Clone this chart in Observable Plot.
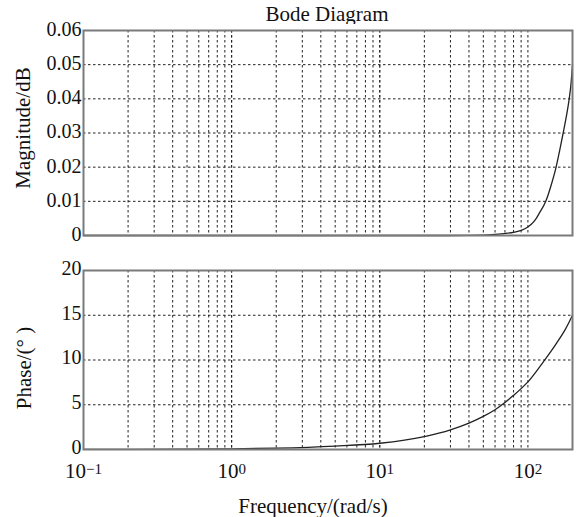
<!DOCTYPE html>
<html><head><meta charset="utf-8">
<script src="https://cdn.jsdelivr.net/npm/d3@7"></script>
<script src="https://cdn.jsdelivr.net/npm/@observablehq/plot@0.6"></script>
<style>
body{margin:0;background:#fff;font-family:"Liberation Serif",serif;}
#wrap{position:relative;width:580px;height:517px;background:#fff;}
#title{position:absolute;left:0;top:2px;width:580px;text-align:center;padding-left:74px;box-sizing:border-box;font-size:21px;color:#111;}
#p1{position:absolute;left:0;top:24px;}
#p2{position:absolute;left:0;top:244px;}
</style></head><body>
<div id="wrap">
<div id="title">Bode Diagram</div>
<div id="p1"></div>
<div id="p2"></div>
</div>
<script>
// ---- data ----
const magFreq = [0.1, 1, 10, 30, 50, 60, 70, 80, 90, 100, 105, 113, 120, 132, 143, 155, 164, 173, 182, 190, 196, 200];
const magDb   = [0, 0, 0, 0, 0.0001, 0.0003, 0.0006, 0.0009, 0.0015, 0.0025, 0.0032, 0.0048, 0.0067, 0.01, 0.0145, 0.02, 0.025, 0.03, 0.035, 0.04, 0.045, 0.05];
const phaseFreq = [0.1, 1, 2, 5, 10, 20, 30, 40, 50, 60, 70, 80, 90, 100, 126, 155, 180, 200];
const phaseDeg  = [0.01, 0.08, 0.15, 0.38, 0.7, 1.45, 2.2, 2.95, 3.7, 4.45, 5.25, 6.05, 6.8, 7.55, 9.7, 11.8, 13.5, 15];
const xTicks = [0.1, 1, 10, 100];
const xExponents = ["-1", "0", "1", "2"];
const magTicks = [0, 0.01, 0.02, 0.03, 0.04, 0.05, 0.06];
const phaseTicks = [0, 5, 10, 15, 20];
const xGrid = [];
for (const d of [0.1, 1, 10]) for (let k = 1; k <= 10; k++) xGrid.push(+(d * k).toPrecision(3));

const magLabel = "Magnitude/dB";
const phaseLabel = "Phase/(\u00b0 )";
const xLabel = "Frequency/(rad/s)";

const magData = magFreq.map((f, i) => ({f, v: magDb[i]}));
const phaseData = phaseFreq.map((f, i) => ({f, v: phaseDeg[i]}));

const gridStyle = {stroke: "#222", strokeDasharray: "2.5,2.5", strokeWidth: 1};
const common = {
  width: 580, marginLeft: 83, marginRight: 8,
  style: {fontFamily: "Liberation Serif", fontSize: "20px", background: "white", color: "#111", overflow: "visible"}
};

const p1 = Plot.plot({
  ...common,
  height: 220, marginTop: 6, marginBottom: 9,
  x: {type: "log", domain: [0.1, 200], axis: null},
  y: {domain: [0, 0.06], axis: null},
  marks: [
    Plot.ruleX(xGrid, gridStyle),
    Plot.ruleY(magTicks.slice(1, -1), gridStyle),
    Plot.line(magData, {x: "f", y: "v", stroke: "#222", strokeWidth: 1.3, curve: "monotone-x"}),
    Plot.frame({stroke: "#7a7a7a", strokeWidth: 2}),
    Plot.axisY(magTicks, {tickSize: 0, tickPadding: 2, dy: -1, label: null, tickFormat: d => d === 0 ? "0" : d.toFixed(2)}),
    Plot.text([magLabel], {frameAnchor: "left", textAnchor: "middle", lineAnchor: "middle", rotate: -90, dx: -60, dy: -5, fontSize: 21})
  ]
});

const p2 = Plot.plot({
  ...common,
  height: 273, marginTop: 26, marginBottom: 68,
  x: {type: "log", domain: [0.1, 200]},
  y: {domain: [0, 20]},
  marks: [
    Plot.ruleX(xGrid, gridStyle),
    Plot.ruleY(phaseTicks.slice(1, -1), gridStyle),
    Plot.line(phaseData, {x: "f", y: "v", stroke: "#222", strokeWidth: 1.3, curve: "monotone-x"}),
    Plot.frame({stroke: "#7a7a7a", strokeWidth: 2}),
    Plot.axisY(phaseTicks, {tickSize: 0, tickPadding: 2, dy: -2, label: null}),
    Plot.axisX(xTicks, {tickSize: 0, tickPadding: 14, label: null, fontSize: 21, tickFormat: () => "10"}),
    Plot.text([phaseLabel], {frameAnchor: "left", textAnchor: "middle", lineAnchor: "middle", rotate: -90, dx: -59, dy: 8, fontSize: 21}),
    Plot.text([xLabel], {frameAnchor: "bottom", textAnchor: "middle", lineAnchor: "middle", dx: -15, dy: 57, fontSize: 21})
  ]
});

document.getElementById("p1").appendChild(p1);
document.getElementById("p2").appendChild(p2);

// superscript exponents on x tick labels
d3.select(p2).selectAll('g[aria-label="x-axis tick label"] text').each(function(_, i) {
  const t = d3.select(this);
  t.text("10");
  t.append("tspan").attr("dy", "-0.3em").attr("font-size", "15px").text(xExponents[i].replace("-", "\u2212"));
});
</script>
</body></html>
